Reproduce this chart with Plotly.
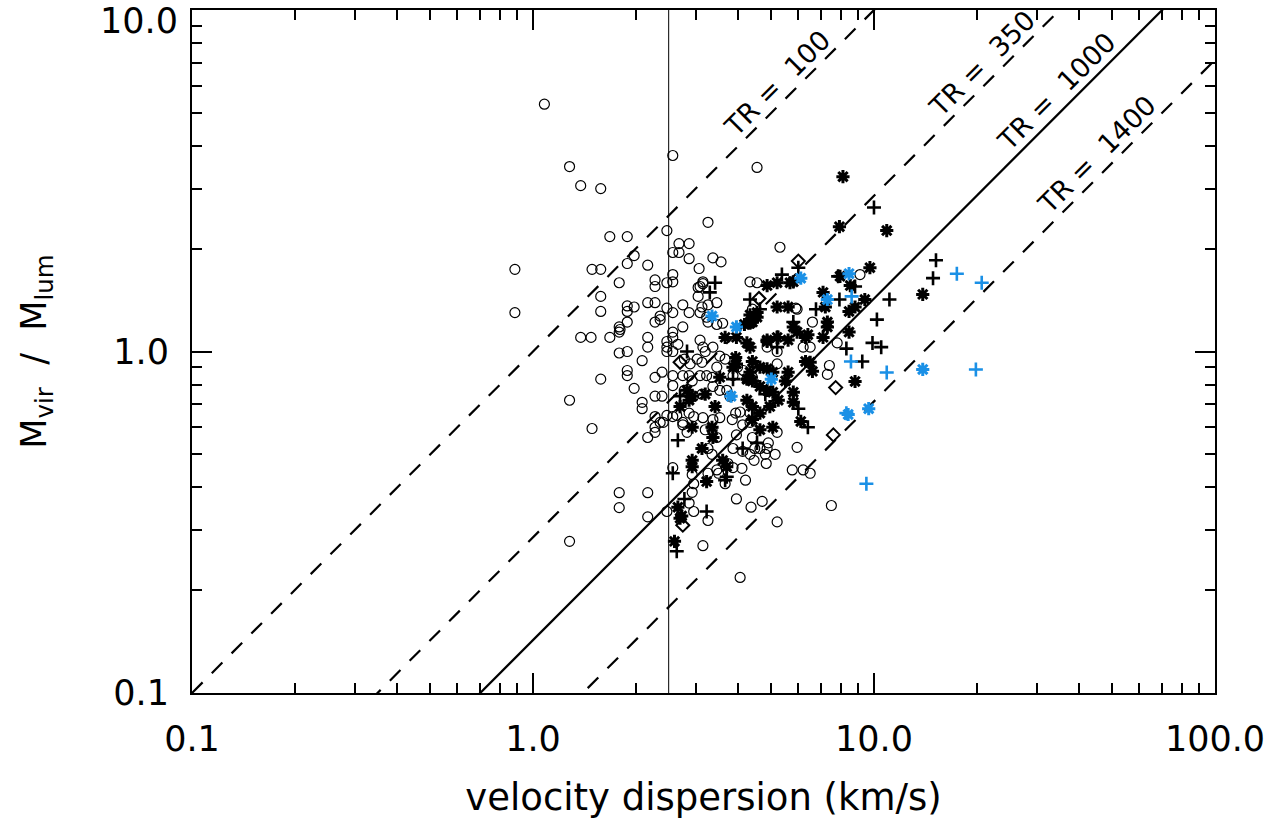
import plotly.graph_objects as go
import math

# ---------------- data ----------------
circ_x = [1.08, 1.28, 1.38, 1.58, 2.57, 4.54, 3.26, 2.47, 1.68, 1.89, 2.68, 2.87, 1.98, 2.57, 2.68, 2.87,
          1.89, 2.17, 3.37, 3.56, 3.07, 1.49, 1.58, 1.79, 2.28, 2.28, 2.47, 2.57, 2.57, 3.15, 3.09, 4.33,
          4.54, 5.3, 0.885, 0.885, 1.58, 1.58, 1.89, 1.98, 1.89, 2.17, 2.28, 2.47, 2.36, 2.36, 2.57, 2.75,
          2.87, 2.28, 3.09, 3.13, 3.26, 3.46, 3.26, 3.46, 3.6, 2.75, 1.79, 1.79, 1.89, 1.38, 1.48, 1.68,
          1.8, 2.17, 2.17, 2.47, 2.47, 2.47, 2.57, 2.57, 2.66, 2.57, 1.79, 1.89, 2.09, 1.58, 1.89, 1.89,
          2.28, 2.39, 2.57, 2.57, 2.75, 1.98, 1.28, 2.09, 2.09, 2.28, 2.39, 2.28, 2.47, 2.57, 2.36, 2.41,
          2.28, 2.17, 2.28, 1.49, 2.75, 2.83, 2.64, 2.57, 3.05, 3.15, 3.05, 3.23, 3.09, 3.15, 3.2, 3.03,
          3.13, 2.89, 2.78, 3.37, 3.53, 3.66, 3.46, 3.09, 3.23, 3.35, 3.37, 3.53, 2.87, 2.93, 2.78, 2.96,
          3.13, 2.87, 2.96, 2.75, 3.15, 3.2, 3.37, 3.53, 3.84, 3.93, 4.05, 4.33, 3.95, 4.12, 4.33, 4.4,
          4.47, 4.9, 5.2, 5.2, 4.86, 3.98, 4.14, 4.24, 4.4, 3.86, 3.7, 3.78, 3.35, 3.46, 3.86, 4.12,
          4.33, 3.73, 3.86, 4.63, 4.86, 4.8, 3.26, 3.35, 3.5, 5.2, 9.1, 5.95, 6.6, 7.8, 6.2, 6.5,
          7.4, 7.3, 5.95, 5.13, 4.83, 5.76, 6.2, 6.5, 4.7, 7.5, 4.45, 4.1, 4.2, 3.66, 2.96, 3.95,
          4.36, 5.2, 2.96, 3.26, 3.15, 4.05, 3.26, 3.46, 2.87, 1.79, 1.79, 2.17, 2.17, 1.28, 2.47, 2.93,
          2.93, 5.9, 4.4]
circ_y = [5.3, 3.48, 3.06, 3.0, 3.75, 3.46, 2.39, 2.26, 2.17, 2.17, 2.07, 2.07, 1.91, 1.95, 1.95, 1.87,
          1.81, 1.79, 1.88, 1.83, 1.75, 1.74, 1.74, 1.59, 1.62, 1.55, 1.59, 1.68, 1.6, 1.6, 1.55, 1.6,
          1.59, 2.02, 1.74, 1.3, 1.45, 1.31, 1.36, 1.35, 1.31, 1.39, 1.39, 1.34, 1.27, 1.24, 1.3, 1.37,
          1.3, 1.22, 1.3, 1.35, 1.37, 1.39, 1.22, 1.2, 1.21, 1.18, 1.18, 1.14, 1.22, 1.1, 1.1, 1.1,
          1.16, 1.1, 1.03, 1.07, 1.03, 1.0, 1.14, 1.1, 1.05, 1.0, 0.99, 1.0, 0.94, 0.83, 0.88, 0.85,
          0.84, 0.87, 0.85, 0.795, 0.85, 0.78, 0.72, 0.71, 0.68, 0.74, 0.74, 0.645, 0.65, 0.645, 0.62, 0.62,
          0.6, 0.56, 0.58, 0.595, 0.61, 0.58, 0.65, 0.457, 1.54, 1.58, 1.45, 1.26, 1.08, 1.03, 1.0, 0.95,
          0.93, 0.92, 0.95, 1.03, 0.97, 0.95, 0.9, 0.85, 0.85, 0.84, 0.79, 0.77, 0.85, 0.82, 0.77, 0.74,
          0.75, 0.66, 0.645, 0.62, 0.64, 0.59, 0.632, 0.64, 0.632, 0.66, 0.665, 0.66, 0.57, 0.61, 0.62, 0.56,
          0.52, 0.54, 0.58, 1.0, 1.03, 0.9, 0.88, 0.83, 0.84, 0.85, 0.77, 0.74, 0.59, 0.56, 0.52, 0.51,
          0.5, 0.47, 0.457, 0.52, 0.52, 0.5, 0.52, 0.5, 0.44, 0.92, 1.68, 1.33, 1.22, 1.06, 1.03, 1.03,
          0.91, 0.857, 0.524, 0.5, 0.47, 0.45, 0.45, 0.44, 0.364, 0.354, 0.48, 0.455, 0.42, 0.41, 0.41, 0.37,
          0.35, 0.317, 0.34, 0.32, 0.27, 0.218, 0.44, 0.45, 0.36, 0.386, 0.349, 0.386, 0.328, 0.278, 0.34, 0.387,
          0.436, 1.34, 1.33]

ast_x = [8.11, 7.92, 10.9, 9.73, 8.52, 13.9, 7.09, 7.2, 5.67, 5.8, 4.86, 5.2, 7.95, 8.45, 8.8, 9.4,
         5.2, 5.6, 7.3, 7.3, 5.8, 5.95, 5.6, 6.4, 7.09, 8.45, 4.86, 4.33, 4.4, 4.54, 4.33, 4.86,
         3.66, 4.24, 4.33, 3.93, 3.95, 3.86, 4.4, 4.63, 4.86, 5.05, 4.33, 4.24, 4.4, 4.63, 4.86, 3.53,
         2.83, 2.93, 2.87, 3.2, 2.7, 3.42, 2.93, 3.35, 3.37, 4.24, 4.4, 4.63, 4.4, 5.05, 4.63, 2.93,
         2.93, 3.6, 3.7, 3.13, 8.8, 6.1, 5.8, 5.8, 6.5, 6.6, 6.3, 5.6, 5.5, 5.05, 5.24, 4.95,
         3.23, 2.73, 2.66, 2.7, 2.6, 4.54, 4.17, 3.95, 5.2, 6.3]
ast_y = [3.25, 2.32, 2.26, 1.76, 1.56, 1.47, 1.49, 1.35, 1.59, 1.6, 1.56, 1.59, 1.66, 1.31, 1.35, 1.42,
         1.35, 1.35, 1.22, 1.18, 1.18, 1.14, 1.08, 1.12, 1.1, 1.14, 1.07, 1.28, 1.22, 1.26, 1.21, 1.08,
         1.1, 1.06, 1.03, 0.96, 0.92, 0.9, 0.935, 0.9, 0.89, 0.87, 0.87, 0.83, 0.82, 0.79, 0.77, 0.84,
         0.77, 0.74, 0.72, 0.75, 0.69, 0.69, 0.6, 0.6, 0.56, 0.72, 0.69, 0.66, 0.632, 0.6, 0.59, 0.48,
         0.46, 0.48, 0.46, 0.52, 0.817, 0.624, 0.76, 0.71, 0.93, 0.875, 0.935, 0.87, 0.82, 0.76, 0.72, 0.69,
         0.416, 0.33, 0.35, 0.325, 0.278, 1.3, 1.2, 1.1, 1.1, 1.1]

plus_x = [10.0, 15.2, 14.9, 11.1, 10.2, 9.9, 10.5, 7.92, 8.8, 7.85, 5.37, 6.0, 6.76, 5.8, 5.24, 8.3,
          4.63, 3.42, 3.3, 4.33, 3.86, 2.7, 2.66, 4.8, 4.54, 2.57, 5.2, 5.2, 3.7, 2.83, 9.24, 6.4,
          6.0, 3.66, 3.23, 4.12, 2.78, 2.64]
plus_y = [2.64, 1.85, 1.64, 1.42, 1.24, 1.06, 1.03, 1.42, 1.55, 1.66, 1.68, 1.76, 1.33, 1.22, 1.1, 1.02,
          1.33, 1.59, 1.49, 1.42, 0.83, 0.74, 0.55, 0.75, 0.54, 0.44, 1.1, 1.03, 0.43, 1.0, 0.935, 0.6,
          0.68, 0.42, 0.34, 0.52, 0.37, 0.26]

diam_x = [4.6, 2.7, 6.0, 7.72, 7.6, 2.75]
diam_y = [1.43, 0.93, 1.84, 0.784, 0.57, 0.31]

blue_ast_x = [3.35, 3.95, 5.0, 3.81, 6.1, 8.45, 7.3, 13.9, 8.4, 9.65]
blue_ast_y = [1.27, 1.18, 0.83, 0.74, 1.64, 1.69, 1.42, 0.886, 0.654, 0.68]

blue_plus_x = [17.5, 20.7, 8.6, 8.56, 10.9, 19.9, 8.3, 9.5]
blue_plus_y = [1.69, 1.59, 1.45, 0.935, 0.868, 0.886, 0.66, 0.41]

# TR reference lines: M_vir/M_lum = sigma / divisor
tr_labels = ["TR =  100", "TR =  350", "TR =  1000", "TR =  1400"]
tr_divisor = [1.0, 3.5, 7.0, 14.0]
tr_dash = ["15px,13px", "15px,13px", "solid", "15px,13px"]
tr_label_sigma = [5.63, 22.5, 37.2, 48.8]   # where each label sits along its line
sigma_cut = 2.5                             # thin vertical line

x_ticks = [0.1, 1.0, 10.0, 100.0]
x_ticktext = ["0.1", "1.0", "10.0", "100.0"]
y_ticks = [0.1, 1.0]
y_ticktext = ["0.1", "1.0"]
y_top_label = "10.0"

FONT = "DejaVu Sans"
BLUE = "#1a90e6"

fig = go.Figure()

line_sig = [0.1, 100.0]
for lab, d, ds in zip(tr_labels, tr_divisor, tr_dash):
    fig.add_trace(go.Scatter(x=line_sig, y=[s / d for s in line_sig], mode="lines",
                             line=dict(color="black", width=2.2, dash=ds), hoverinfo="skip"))

fig.add_trace(go.Scatter(x=[sigma_cut, sigma_cut], y=[0.1, 10.0], mode="lines",
                         line=dict(color="black", width=1), hoverinfo="skip"))

fig.add_trace(go.Scatter(x=circ_x, y=circ_y, mode="markers",
                         marker=dict(symbol="circle-open", size=10, color="black",
                                     line=dict(width=1.2, color="black"))))
fig.add_trace(go.Scatter(x=ast_x, y=ast_y, mode="markers",
                         marker=dict(symbol="asterisk-open", size=11, color="black",
                                     line=dict(width=3, color="black"))))
fig.add_trace(go.Scatter(x=plus_x, y=plus_y, mode="markers",
                         marker=dict(symbol="cross-thin-open", size=10, color="black",
                                     line=dict(width=2.6, color="black"))))
fig.add_trace(go.Scatter(x=diam_x, y=diam_y, mode="markers",
                         marker=dict(symbol="diamond-open", size=10, color="black",
                                     line=dict(width=2, color="black"))))
fig.add_trace(go.Scatter(x=blue_ast_x, y=blue_ast_y, mode="markers",
                         marker=dict(symbol="asterisk-open", size=11, color=BLUE,
                                     line=dict(width=3, color=BLUE))))
fig.add_trace(go.Scatter(x=blue_plus_x, y=blue_plus_y, mode="markers",
                         marker=dict(symbol="cross-thin-open", size=10, color=BLUE,
                                     line=dict(width=2.6, color=BLUE))))

for lab, d, s in zip(tr_labels, tr_divisor, tr_label_sigma):
    fig.add_annotation(x=math.log10(s), y=math.log10(s / d), xref="x", yref="y",
                       text=lab, showarrow=False, textangle=-45,
                       xshift=-12, yshift=12,
                       font=dict(family=FONT, size=27, color="black"))

# top y tick label, kept inside the page like the reference
fig.add_annotation(x=0, y=1, xref="paper", yref="y", text=y_top_label, showarrow=False,
                   xanchor="right", yanchor="top", xshift=-12, yshift=11,
                   font=dict(family=FONT, size=35, color="black"))

minor_x = [m * 10.0 ** e for e in (-1, 0, 1) for m in range(2, 10)]
minor_y = [m * 10.0 ** e for e in (-1, 0) for m in range(2, 10)]
major_y_all = [0.1, 1.0, 10.0]

axis_common = dict(type="log", showgrid=False, zeroline=False, showline=True,
                   linecolor="black", linewidth=2, mirror="allticks",
                   ticks="inside", ticklen=20, tickwidth=2, tickcolor="black",
                   tickfont=dict(family=FONT, size=35, color="black"))

fig.update_xaxes(range=[-1, 2.0001], tickmode="array", tickvals=x_ticks, ticktext=x_ticktext,
                 minor=dict(tickmode="array", tickvals=minor_x, ticks="inside", ticklen=10,
                            tickwidth=2, tickcolor="black"),
                 title=dict(text="velocity dispersion (km/s)",
                            font=dict(family=FONT, size=37, color="black"), standoff=26),
                 ticklabelstandoff=14, **axis_common)
fig.update_yaxes(range=[-1, 1.0001], tickmode="array", tickvals=major_y_all,
                 ticktext=y_ticktext + [""],
                 minor=dict(tickmode="array", tickvals=minor_y, ticks="inside", ticklen=10,
                            tickwidth=2, tickcolor="black"),
                 title=dict(text="M<sub>vir</sub>  /  M<sub>lum</sub>",
                            font=dict(family=FONT, size=35, color="black"), standoff=56),
                 ticklabelstandoff=14, **axis_common)

fig.update_layout(width=1275, height=822, showlegend=False,
                  margin=dict(l=192, r=60, t=10, b=129, autoexpand=False),
                  paper_bgcolor="white", plot_bgcolor="white", hovermode=False)

fig.write_html("out.html")
